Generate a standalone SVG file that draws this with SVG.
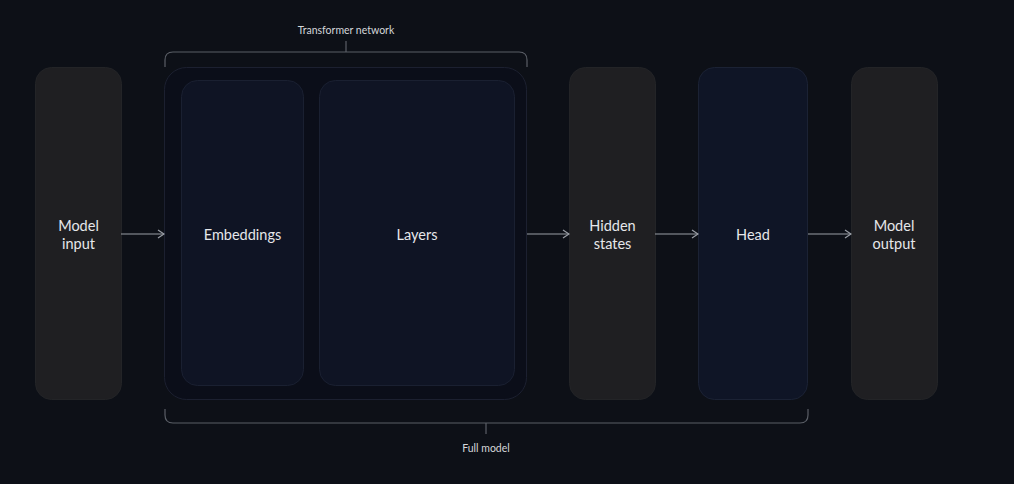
<svg xmlns="http://www.w3.org/2000/svg" width="1014" height="484" viewBox="0 0 1014 484">
<defs>
<style>
.bg{fill:#0d1017}
.gray{fill:#1f1f22;stroke:#232427;stroke-width:1}
.outer{fill:#0b0e19;stroke:#1c2030;stroke-width:1}
.inner{fill:#0f1424;stroke:#1a2031;stroke-width:1}
.head{fill:#0f1526;stroke:#1b2234;stroke-width:1}
.lbl{font-family:Lato,"Noto Sans",sans-serif;font-size:14.5px;fill:#e6e7ea;text-anchor:middle}
.small{font-family:Lato,"Noto Sans",sans-serif;font-size:10.5px;fill:#d4d6da;text-anchor:middle}
.conn{stroke:#9a9ea6;stroke-width:1.2;fill:none}
.brace{stroke:#5a5e66;stroke-width:1.2;fill:none}
</style>
<marker id="arr" viewBox="0 0 10 10" refX="9" refY="5" markerWidth="10" markerHeight="10" markerUnits="userSpaceOnUse" orient="auto">
<path d="M3,1 L9,5 L3,9" fill="none" stroke="#9a9ea6" stroke-width="1.2"/>
</marker>
</defs>
<rect class="bg" x="0" y="0" width="1014" height="484"/>
<g id="model-input">
<rect class="gray" x="35.5" y="67.5" width="86" height="332" rx="16"/>
<text class="lbl" x="78.5" y="231">Model</text>
<text class="lbl" x="78.5" y="249">input</text>
</g>
<g id="transformer-network">
<rect class="outer" x="164.5" y="67.5" width="362" height="332" rx="22"/>
<path class="brace" d="M165,67 V60 Q165,52 173,52 H519 Q527,52 527,60 V67 M346,52 V41"/>
<text class="small" x="346" y="34">Transformer network</text>
</g>
<g id="embeddings">
<rect class="inner" x="181.5" y="80.5" width="122" height="305" rx="16"/>
<text class="lbl" x="242.5" y="240">Embeddings</text>
</g>
<g id="layers">
<rect class="inner" x="319.5" y="80.5" width="195" height="305" rx="16"/>
<text class="lbl" x="417" y="240">Layers</text>
</g>
<g id="hidden-states">
<rect class="gray" x="569.5" y="67.5" width="86" height="332" rx="16"/>
<text class="lbl" x="612.5" y="231">Hidden</text>
<text class="lbl" x="612.5" y="249">states</text>
</g>
<g id="head">
<rect class="head" x="698.5" y="67.5" width="109" height="332" rx="16"/>
<text class="lbl" x="753" y="240">Head</text>
</g>
<g id="model-output">
<rect class="gray" x="851.5" y="67.5" width="86" height="332" rx="16"/>
<text class="lbl" x="894" y="231">Model</text>
<text class="lbl" x="894" y="249">output</text>
</g>
<g id="full-model">
<path class="brace" d="M165,409 V415 Q165,423 173,423 H800 Q808,423 808,415 V409 M486,423 V434"/>
<text class="small" x="486" y="452">Full model</text>
</g>
<g id="connectors">
<line class="conn" x1="121" y1="234" x2="164" y2="234" marker-end="url(#arr)"/>
<line class="conn" x1="527" y1="234" x2="569" y2="234" marker-end="url(#arr)"/>
<line class="conn" x1="655" y1="234" x2="698" y2="234" marker-end="url(#arr)"/>
<line class="conn" x1="808" y1="234" x2="851" y2="234" marker-end="url(#arr)"/>
</g>
</svg>
